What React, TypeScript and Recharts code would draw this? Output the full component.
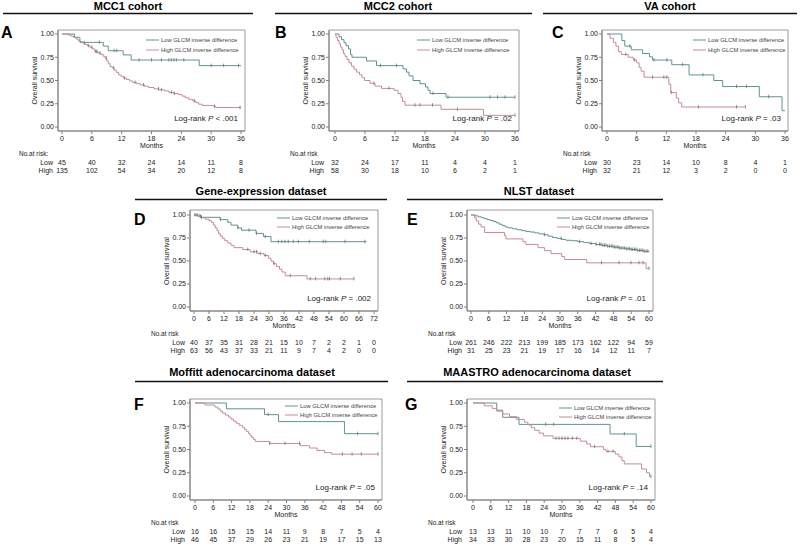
import React from "react";
import {
  ComposedChart,
  Line,
  Scatter,
  XAxis,
  YAxis,
  ReferenceArea,
} from "recharts";

type Pt = [number, number];

const FONT = '"Liberation Sans", Arial, Helvetica, sans-serif';
const LOW_COLOR = "#5f9297";
const HIGH_COLOR = "#c48b9d";
const CENSOR_COLOR = "#666";
const FRAME_COLOR = "#9a9a9a";
const AXIS_COLOR = "#808080";
const TEXT_COLOR = "#222";

const months36 = [0, 6, 12, 18, 24, 30, 36];
const months60 = [0, 6, 12, 18, 24, 30, 36, 42, 48, 54, 60];
const months72 = [0, 6, 12, 18, 24, 30, 36, 42, 48, 54, 60, 66, 72];
const survivalTicks = [0, 0.25, 0.5, 0.75, 1];

// A - MCC1 cohort
const mcc1Low: Pt[] = [[0, 1], [2.5, 0.965], [3.6, 0.91], [8.3, 0.87], [9.3, 0.82], [12.3, 0.775], [13.9, 0.72], [27.6, 0.66], [36, 0.66]];
const mcc1LowCensor = [7.5, 10.5, 11, 15.5, 18, 20, 21.5, 22, 22.5, 23, 24.5, 30, 32.5, 35.5];
const mcc1High: Pt[] = [[0, 1], [1.2, 0.99], [1.8, 0.978], [2.3, 0.963], [2.8, 0.948], [3.2, 0.933], [3.6, 0.918], [4.1, 0.903], [4.6, 0.888], [5.1, 0.873], [5.6, 0.858], [6.1, 0.84], [6.6, 0.81], [7.2, 0.795], [7.8, 0.78], [8.3, 0.76], [8.7, 0.74], [9.0, 0.71], [9.3, 0.68], [9.7, 0.65], [10.1, 0.635], [10.5, 0.61], [11, 0.585], [11.4, 0.56], [11.9, 0.545], [12.4, 0.525], [13, 0.51], [13.6, 0.495], [14.2, 0.48], [15, 0.465], [15.8, 0.452], [16.6, 0.438], [17.4, 0.425], [18.5, 0.41], [19.5, 0.4], [20.6, 0.388], [21.5, 0.372], [22.5, 0.36], [23.4, 0.348], [24.2, 0.332], [24.8, 0.315], [25.5, 0.298], [26.3, 0.28], [26.9, 0.262], [27.5, 0.245], [28.2, 0.232], [30.6, 0.218], [31, 0.21], [36, 0.21]];
const mcc1HighCensor = [4.5, 5.3, 6.0, 6.8, 7.0, 7.6, 8.9, 10.4, 12.6, 14.7, 16.4, 19.4, 20, 22, 22.6, 26.6, 30.7, 35.8];
const mcc1RiskLow = [45, 40, 32, 24, 14, 11, 8];
const mcc1RiskHigh = [135, 102, 54, 34, 20, 12, 8];

// B - MCC2 cohort
const mcc2Low: Pt[] = [[0, 1], [0.8, 0.97], [1.3, 0.94], [1.8, 0.906], [2.2, 0.875], [2.7, 0.84], [3.1, 0.78], [3.4, 0.75], [6.3, 0.71], [8.3, 0.66], [13.6, 0.625], [14.3, 0.59], [14.8, 0.55], [15.6, 0.5], [17, 0.465], [18.1, 0.43], [18.6, 0.395], [19.0, 0.36], [22.2, 0.32], [36, 0.32]];
const mcc2LowCensor = [9.1, 12.3, 19.6, 22.6, 31, 32.5, 34, 36];
const mcc2High: Pt[] = [[0, 1], [0.2, 0.965], [0.5, 0.93], [0.8, 0.895], [1.1, 0.86], [1.4, 0.83], [1.7, 0.79], [2.0, 0.76], [2.4, 0.725], [2.8, 0.69], [3.3, 0.655], [3.8, 0.62], [4.3, 0.59], [4.9, 0.56], [5.4, 0.53], [5.9, 0.5], [7, 0.47], [8, 0.44], [9.3, 0.415], [11.8, 0.395], [12.6, 0.36], [13.2, 0.32], [13.5, 0.275], [14, 0.235], [21.2, 0.19], [29.7, 0.125], [36, 0.125]];
const mcc2HighCensor = [7.8, 10.8, 16, 17, 19.5, 24.5, 36];
const mcc2RiskLow = [32, 24, 17, 11, 4, 4, 1];
const mcc2RiskHigh = [58, 30, 18, 10, 6, 2, 1];

// C - VA cohort
const vaLow: Pt[] = [[0, 1], [3, 0.93], [3.6, 0.87], [4.9, 0.83], [7.2, 0.79], [8.6, 0.755], [9.2, 0.72], [13.1, 0.67], [16.6, 0.56], [21.6, 0.5], [23.4, 0.435], [30.8, 0.325], [35.4, 0.175], [36, 0.175]];
const vaLowCensor = [4.6, 9.5, 12.1, 15.3, 19.4, 26.2, 28.2, 32.7];
const vaHigh: Pt[] = [[0, 1], [0.6, 0.955], [1.3, 0.91], [1.8, 0.87], [2.3, 0.81], [2.9, 0.78], [4.3, 0.75], [5.3, 0.72], [6.0, 0.69], [6.5, 0.64], [6.9, 0.6], [7.5, 0.535], [12.5, 0.46], [12.9, 0.37], [14, 0.31], [14.5, 0.26], [15.1, 0.215], [28, 0.215]];
const vaHighCensor = [3.8, 5.6, 9.2, 11.5, 12.1, 13, 18.5, 26.2, 28];
const vaRiskLow = [30, 23, 14, 10, 8, 4, 1];
const vaRiskHigh = [32, 21, 12, 3, 2, 0, 0];

// D - Gene-expression dataset
const geneLow: Pt[] = [[0, 1], [2.5, 0.975], [10.5, 0.95], [13.5, 0.92], [14.8, 0.89], [17.5, 0.86], [19, 0.835], [24.8, 0.8], [27.8, 0.765], [30.8, 0.71], [69, 0.71]];
const geneLowCensor = [0.4, 1.2, 3.0, 10.5, 17.5, 22, 25, 28.5, 33.7, 35.1, 36.4, 37.7, 39.7, 41.7, 46.1, 51.7, 52.7, 60.4, 68.4];
const geneHigh: Pt[] = [[0, 1], [1.5, 0.985], [3.0, 0.97], [4.5, 0.955], [6, 0.94], [7, 0.92], [7.8, 0.89], [8.5, 0.86], [9.2, 0.83], [9.8, 0.8], [10.5, 0.77], [11.3, 0.745], [12.3, 0.72], [13.5, 0.695], [14.8, 0.67], [16, 0.645], [19.5, 0.625], [22.5, 0.6], [25.5, 0.58], [28, 0.56], [29.8, 0.53], [30.8, 0.5], [31.8, 0.47], [33, 0.44], [34.2, 0.41], [35.2, 0.38], [36.5, 0.34], [45.2, 0.305], [64, 0.305]];
const geneHighCensor = [2.5, 21.5, 24, 25, 26.5, 28.5, 32, 38.5, 46.5, 48.6, 52.3, 53.5, 54.2, 58.5, 64];
const geneRiskLow = [40, 37, 35, 31, 28, 21, 15, 10, 7, 2, 2, 1, 0];
const geneRiskHigh = [63, 56, 43, 37, 33, 21, 11, 9, 7, 4, 2, 0, 0];

// E - NLST dataset
const nlstLow: Pt[] = [[0, 1], [1.5, 0.99], [2.5, 0.98], [3.5, 0.97], [4.5, 0.96], [5.5, 0.95], [6.5, 0.94], [7.5, 0.93], [8.5, 0.915], [9.5, 0.9], [10.5, 0.885], [11.5, 0.87], [12.5, 0.86], [14, 0.85], [15.5, 0.84], [17, 0.83], [18.5, 0.82], [20, 0.815], [21.5, 0.805], [23, 0.795], [24.5, 0.785], [26, 0.77], [27.5, 0.755], [29, 0.745], [30.5, 0.735], [32, 0.725], [34, 0.72], [36, 0.71], [38, 0.7], [40, 0.69], [42, 0.68], [44, 0.67], [46, 0.66], [48, 0.65], [50, 0.64], [52, 0.632], [54, 0.625], [56, 0.615], [58, 0.605], [60, 0.6]];
const nlstLowCensor = [24.8, 30.4, 36.6, 40.5, 42.2, 43.3, 43.8, 44.4, 45.0, 45.5, 46.1, 46.7, 47.3, 47.8, 48.4, 48.9, 49.5, 50.0, 50.6, 51.2, 51.8, 52.3, 52.9, 53.4, 54.0, 54.5, 55.1, 55.6, 56.2, 56.8, 57.3, 57.9, 58.4, 59.0, 59.6];
const nlstHigh: Pt[] = [[0, 1], [1.2, 0.97], [1.8, 0.935], [2.6, 0.9], [3.4, 0.87], [4.6, 0.81], [11.3, 0.775], [11.8, 0.74], [17.5, 0.71], [18.5, 0.68], [22.6, 0.645], [24.8, 0.613], [27, 0.58], [30.6, 0.548], [31.5, 0.516], [39, 0.48], [59, 0.42], [60, 0.42]];
const nlstHighCensor = [44, 49.9, 53.9, 56.6, 58, 60];
const nlstRiskLow = [261, 246, 222, 213, 199, 185, 173, 162, 122, 94, 59];
const nlstRiskHigh = [31, 25, 23, 21, 19, 17, 16, 14, 12, 11, 7];

// F - Moffitt adenocarcinoma dataset
const moffittLow: Pt[] = [[0, 1], [10.3, 0.9375], [22.8, 0.875], [27.4, 0.8], [49, 0.67], [60, 0.67]];
const moffittLowCensor = [24, 53.3, 60];
const moffittHigh: Pt[] = [[0, 1], [3.3, 0.978], [6.5, 0.957], [7.5, 0.935], [8.3, 0.913], [9.0, 0.891], [10, 0.87], [11, 0.848], [11.8, 0.826], [12.6, 0.804], [13.5, 0.783], [14.5, 0.761], [15.5, 0.739], [16.2, 0.717], [16.8, 0.696], [17.5, 0.674], [18, 0.652], [18.6, 0.63], [19.2, 0.609], [19.8, 0.587], [24.5, 0.565], [34.5, 0.541], [37.6, 0.516], [40, 0.49], [42.5, 0.466], [44.8, 0.45], [60, 0.45]];
const moffittHighCensor = [24.5, 29.5, 34.3, 48.3, 51.5, 54.5, 60];
const moffittRiskLow = [16, 16, 15, 15, 14, 11, 9, 8, 7, 5, 4];
const moffittRiskHigh = [46, 45, 37, 29, 26, 23, 21, 19, 17, 15, 13];

// G - MAASTRO adenocarcinoma dataset
const maastroLow: Pt[] = [[0, 1], [8, 0.923], [10, 0.846], [15.5, 0.77], [46.2, 0.667], [55, 0.533], [60, 0.533]];
const maastroLowCensor = [24.5, 27.2, 51, 60];
const maastroHigh: Pt[] = [[0, 1], [3.8, 0.97], [6.5, 0.94], [8.0, 0.912], [10, 0.882], [12.3, 0.853], [14.6, 0.824], [17.3, 0.794], [18.5, 0.765], [19.6, 0.735], [20.8, 0.706], [22.3, 0.676], [23.8, 0.647], [27, 0.62], [36.2, 0.59], [38.3, 0.56], [39.6, 0.53], [44, 0.5], [44.8, 0.48], [48, 0.45], [49.2, 0.42], [50.2, 0.38], [51, 0.345], [56.8, 0.29], [58.5, 0.25], [59.5, 0.21], [60, 0.21]];
const maastroHighCensor = [28, 29, 30, 31, 32, 33.5, 35, 41, 45.5, 47.2, 60];
const maastroRiskLow = [13, 13, 11, 10, 10, 7, 7, 7, 6, 5, 4];
const maastroRiskHigh = [34, 33, 30, 28, 23, 20, 15, 11, 8, 5, 4];

type Geo = { l: number; t: number; r: number; b: number; x0: number; x1: number; y1: number; y0: number };

type PanelDef = {
  letter: string;
  pText: string;
  geo: Geo;
  ticks: number[];
  low: Pt[];
  lowCensor: number[];
  high: Pt[];
  highCensor: number[];
  riskLow: number[];
  riskHigh: number[];
  legend: { x: number; y: number; gap: number };
  letterPos: [number, number];
  colon?: boolean;
};

const panels: PanelDef[] = [
  { letter: "A", pText: " < .001", geo: { l: 58, t: 30, r: 245, b: 131, x0: 62, x1: 241, y1: 34, y0: 127 }, ticks: months36, low: mcc1Low, lowCensor: mcc1LowCensor, high: mcc1High, highCensor: mcc1HighCensor, riskLow: mcc1RiskLow, riskHigh: mcc1RiskHigh, legend: { x: 146, y: 40, gap: 10 }, letterPos: [1, 38], colon: true },
  { letter: "B", pText: " = .02", geo: { l: 329, t: 30, r: 519, b: 131, x0: 335, x1: 515, y1: 34, y0: 127 }, ticks: months36, low: mcc2Low, lowCensor: mcc2LowCensor, high: mcc2High, highCensor: mcc2HighCensor, riskLow: mcc2RiskLow, riskHigh: mcc2RiskHigh, legend: { x: 417, y: 40, gap: 10 }, letterPos: [275, 37.5] },
  { letter: "C", pText: " = .03", geo: { l: 602, t: 30, r: 788, b: 131, x0: 607, x1: 785, y1: 34, y0: 127 }, ticks: months36, low: vaLow, lowCensor: vaLowCensor, high: vaHigh, highCensor: vaHighCensor, riskLow: vaRiskLow, riskHigh: vaRiskHigh, legend: { x: 693, y: 40, gap: 10 }, letterPos: [552, 38] },
  { letter: "D", pText: " = .002", geo: { l: 190, t: 210, r: 378, b: 311, x0: 194, x1: 374, y1: 215, y0: 307 }, ticks: months72, low: geneLow, lowCensor: geneLowCensor, high: geneHigh, highCensor: geneHighCensor, riskLow: geneRiskLow, riskHigh: geneRiskHigh, legend: { x: 277, y: 218, gap: 9 }, letterPos: [134, 225] },
  { letter: "E", pText: " = .01", geo: { l: 467, t: 210, r: 653, b: 311, x0: 471, x1: 649, y1: 215, y0: 307 }, ticks: months60, low: nlstLow, lowCensor: nlstLowCensor, high: nlstHigh, highCensor: nlstHighCensor, riskLow: nlstRiskLow, riskHigh: nlstRiskHigh, legend: { x: 557, y: 218, gap: 9 }, letterPos: [407, 225] },
  { letter: "F", pText: " = .05", geo: { l: 190, t: 399, r: 382, b: 500, x0: 195, x1: 378, y1: 403, y0: 496 }, ticks: months60, low: moffittLow, lowCensor: moffittLowCensor, high: moffittHigh, highCensor: moffittHighCensor, riskLow: moffittRiskLow, riskHigh: moffittRiskHigh, legend: { x: 285, y: 406, gap: 9 }, letterPos: [134, 410] },
  { letter: "G", pText: " = .14", geo: { l: 467, t: 399, r: 655, b: 500, x0: 473, x1: 651, y1: 403, y0: 496 }, ticks: months60, low: maastroLow, lowCensor: maastroLowCensor, high: maastroHigh, highCensor: maastroHighCensor, riskLow: maastroRiskLow, riskHigh: maastroRiskHigh, legend: { x: 559, y: 408, gap: 9 }, letterPos: [405, 410] },
];

// section headings with their underline spans
const headings = [
  { text: "MCC1 cohort", cx: 128, y: 9.5, lineY: 13.5, x1: 3, x2: 253 },
  { text: "MCC2 cohort", cx: 398, y: 9.5, lineY: 13.5, x1: 275, x2: 532 },
  { text: "VA cohort", cx: 670, y: 9.5, lineY: 13.5, x1: 543, x2: 797 },
  { text: "Gene-expression dataset", cx: 261, y: 194.5, lineY: 199.5, x1: 135, x2: 387 },
  { text: "NLST dataset", cx: 539, y: 194.5, lineY: 199.5, x1: 407, x2: 663 },
  { text: "Moffitt adenocarcinoma dataset", cx: 252, y: 376, lineY: 381.5, x1: 135, x2: 388 },
  { text: "MAASTRO adenocarcinoma dataset", cx: 537, y: 376, lineY: 381.5, x1: 407, x2: 663 },
];

const YW = 34;
const MT = 3;
const MR = 8;
const MB = 4;
const AX_MAIN = 44;

const toSteps = (pts: Pt[]) => pts.map(([t, s]) => ({ t, s }));

const survivalAt = (pts: Pt[], t: number) => {
  let s = 1;
  for (const [pt, ps] of pts) {
    if (pt <= t) s = ps;
  }
  return s;
};

const CensorMark = (props: any) => {
  const { cx, cy } = props;
  if (cx == null || cy == null) return <g />;
  return (
    <line x1={cx} x2={cx} y1={cy - 2} y2={cy + 1.5} stroke={CENSOR_COLOR} strokeWidth={0.7} />
  );
};

// month label plus the two number-at-risk rows, all placed on the axis tick
const MonthRiskTick = (props: any) => {
  const { x, y, payload, ticks, riskLow, riskHigh } = props;
  const i = ticks.indexOf(payload.value);
  const common = { x, textAnchor: "middle" as const, fontSize: 7, fill: TEXT_COLOR, fontFamily: FONT };
  return (
    <g>
      <text {...common} y={y + 5}>{payload.value}</text>
      <text {...common} y={y + 28.5}>{i >= 0 ? riskLow[i] : ""}</text>
      <text {...common} y={y + 36.5}>{i >= 0 ? riskHigh[i] : ""}</text>
    </g>
  );
};

function KMPanel({ p }: { p: PanelDef }) {
  const g = p.geo;
  const tMax = p.ticks[p.ticks.length - 1];
  const xs = (g.x1 - g.x0) / tMax;
  const xDomain: [number, number] = [-(g.x0 - g.l) / xs, tMax + (g.r - g.x1) / xs];
  const ys = g.y0 - g.y1;
  const yDomain: [number, number] = [-(g.b - g.y0) / ys, 1 + (g.y1 - g.t) / ys];
  const width = YW + (g.r - g.l) + MR;
  const height = MT + (g.b - g.t) + AX_MAIN + MB;

  const lowData = toSteps(p.low);
  const highData = toSteps(p.high);
  const lowCens = p.lowCensor.map((t) => ({ t, s: survivalAt(p.low, t) }));
  const highCens = p.highCensor.map((t) => ({ t, s: survivalAt(p.high, t) }));

  return (
    <div style={{ position: "absolute", left: g.l - YW, top: g.t - MT }}>
      <ComposedChart width={width} height={height} margin={{ top: MT, right: MR, left: 0, bottom: MB }}>
        <XAxis
          type="number"
          dataKey="t"
          domain={xDomain}
          ticks={p.ticks}
          interval={0}
          allowDataOverflow
          height={AX_MAIN}
          tickSize={3}
          tickMargin={2}
          stroke={AXIS_COLOR}
          tick={(tp: any) => <MonthRiskTick {...tp} ticks={p.ticks} riskLow={p.riskLow} riskHigh={p.riskHigh} />}
          label={{ value: "Months", position: "insideBottom", offset: AX_MAIN - 16.5, style: { fontSize: 7, fill: TEXT_COLOR, fontFamily: FONT } }}
        />
        <YAxis
          type="number"
          domain={yDomain}
          ticks={survivalTicks}
          interval={0}
          allowDataOverflow
          width={YW}
          tickSize={3}
          tickMargin={1}
          stroke={AXIS_COLOR}
          tick={{ fontSize: 7, fill: TEXT_COLOR, fontFamily: FONT }}
          tickFormatter={(v: number) => v.toFixed(2)}
        />
        <ReferenceArea
          x1={xDomain[0]}
          x2={xDomain[1]}
          y1={yDomain[0]}
          y2={yDomain[1]}
          fill="none"
          fillOpacity={0}
          stroke={FRAME_COLOR}
          strokeWidth={1}
        />
        <Line data={lowData} dataKey="s" type="stepAfter" stroke={LOW_COLOR} strokeWidth={1} dot={false} isAnimationActive={false} />
        <Line data={highData} dataKey="s" type="stepAfter" stroke={HIGH_COLOR} strokeWidth={1} dot={false} isAnimationActive={false} />
        <Scatter data={lowCens} dataKey="s" shape={CensorMark} isAnimationActive={false} />
        <Scatter data={highCens} dataKey="s" shape={CensorMark} isAnimationActive={false} />
      </ComposedChart>
    </div>
  );
}

function PanelText({ p }: { p: PanelDef }) {
  const g = p.geo;
  const lg = p.legend;
  const midY = (g.y0 + g.y1) / 2;
  return (
    <g fontFamily={FONT} fill={TEXT_COLOR}>
      <text x={p.letterPos[0]} y={p.letterPos[1]} fontSize={16} fontWeight="bold" fill="#000">
        {p.letter}
      </text>
      <text
        x={g.l - 24}
        y={midY}
        fontSize={7}
        textAnchor="middle"
        dominantBaseline="central"
        transform={`rotate(-90 ${g.l - 24} ${midY})`}
      >
        Overall survival
      </text>
      <line x1={lg.x} x2={lg.x + 13} y1={lg.y} y2={lg.y} stroke={LOW_COLOR} strokeWidth={1} />
      <text x={lg.x + 15} y={lg.y + 2} fontSize={5.8} fill="#444">
        Low GLCM inverse difference
      </text>
      <line x1={lg.x} x2={lg.x + 13} y1={lg.y + lg.gap} y2={lg.y + lg.gap} stroke={HIGH_COLOR} strokeWidth={1} />
      <text x={lg.x + 15} y={lg.y + lg.gap + 2} fontSize={5.8} fill="#444">
        High GLCM inverse difference
      </text>
      <text x={g.r - 7} y={g.b - 10} fontSize={8} textAnchor="end">
        Log-rank <tspan fontStyle="italic">P</tspan>
        {p.pText}
      </text>
      <text x={g.l - 39} y={g.b + 25.3} fontSize={6.5}>
        {p.colon ? "No.at risk:" : "No.at risk"}
      </text>
      <text x={g.l - 5} y={g.b + 33.5} fontSize={7} textAnchor="end">
        Low
      </text>
      <text x={g.l - 5} y={g.b + 41.5} fontSize={7} textAnchor="end">
        High
      </text>
    </g>
  );
}

export default function App() {
  return (
    <div style={{ position: "absolute", left: 0, top: 0, width: 800, height: 544, background: "#fff", overflow: "hidden" }}>
      {panels.map((p) => (
        <KMPanel key={p.letter} p={p} />
      ))}
      <svg width={800} height={544} style={{ position: "absolute", left: 0, top: 0, pointerEvents: "none" }}>
        {headings.map((h) => (
          <g key={h.text}>
            <text x={h.cx} y={h.y} fontFamily={FONT} fontSize={11} fontWeight="bold" textAnchor="middle" fill="#000">
              {h.text}
            </text>
            <line x1={h.x1} x2={h.x2} y1={h.lineY} y2={h.lineY} stroke="#111" strokeWidth={1.3} />
          </g>
        ))}
        {panels.map((p) => (
          <PanelText key={p.letter} p={p} />
        ))}
      </svg>
    </div>
  );
}
